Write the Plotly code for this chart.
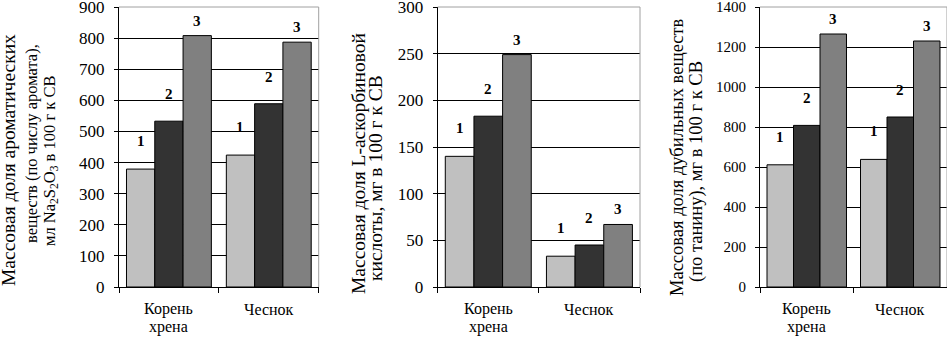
import plotly.graph_objects as go

# ---------------- data ----------------
categories = ["Корень<br>хрена", "Чеснок"]
series_names = ["1", "2", "3"]

aroma_1 = [379, 424]
aroma_2 = [533, 589]
aroma_3 = [808, 787]

ascorbic_1 = [140, 33]
ascorbic_2 = [183, 45]
ascorbic_3 = [249, 67]

tannin_1 = [611, 638]
tannin_2 = [808, 850]
tannin_3 = [1265, 1230]

y_ranges = [[0, 900], [0, 300], [0, 1400]]
y_dticks = [100, 50, 200]

# ---------------- style ----------------
W, H = 947, 337
FONT = "'Liberation Serif', 'Times New Roman', serif"
bar_colors = ["#c0c0c0", "#333333", "#808080"]
label_yshift = [28, 27, 15]
BARGAP = 0.15
cat_line_shift = [-22, -40]   # px offsets of category label lines below the axis

panel_x_px = [(119, 318.7), (437.7, 640), (760, 947)]
plot_top_px, plot_bottom_px = 7, 287

panels = [
    [aroma_1, aroma_2, aroma_3],
    [ascorbic_1, ascorbic_2, ascorbic_3],
    [tannin_1, tannin_2, tannin_3],
]

title_lines = [
    # text, x center px, y center px, font size
    ("Массовая доля ароматических", 8, 160, 19.5),
    ("веществ (по числу аромата),", 31, 144, 16.5),
    ("мл Na<sub>2</sub>S<sub>2</sub>O<sub>3</sub> в 100 г к СВ", 50, 161, 16.5),
    ("Массовая доля L-аскорбиновой", 358, 164, 19.5),
    ("кислоты, мг в 100 г к СВ", 375, 178, 19.5),
    ("Массовая доля дубильных веществ", 677, 157, 18.5),
    ("(по танину), мг в 100 г к СВ", 696, 172, 18.5),
]
tick_sizes = [17, 17, 15]

fig = go.Figure()
annotations = []
shapes = []

y0 = (H - plot_bottom_px) / H
y1 = (H - plot_top_px) / H

for p, series in enumerate(panels):
    xa = "x" if p == 0 else f"x{p+1}"
    ya = "y" if p == 0 else f"y{p+1}"
    for s, vals in enumerate(series):
        fig.add_trace(go.Bar(
            x=categories, y=vals, name=series_names[s],
            marker=dict(color=bar_colors[s], line=dict(color="black", width=1)),
            xaxis=xa, yaxis=ya, showlegend=False, offsetgroup=str(s),
            hoverinfo="skip",
        ))
    # bar labels
    x_lo, x_hi = panel_x_px[p]
    cat_w = (x_hi - x_lo) / len(categories)
    bar_w = cat_w * (1 - BARGAP) / len(series)
    for s, vals in enumerate(series):
        for c, v in enumerate(vals):
            annotations.append(dict(
                x=categories[c], y=v, xref=xa, yref=ya, text=f"<b>{series_names[s]}</b>",
                showarrow=False, xshift=(s - 1) * bar_w, yshift=label_yshift[s],
                font=dict(family=FONT, size=15, color="black"),
            ))
    # category labels (tighter line spacing than tick labels allow)
    for cat in categories:
        for li, line in enumerate(cat.split("<br>")):
            annotations.append(dict(
                x=cat, y=y_ranges[p][0], xref=xa, yref=ya, text=line,
                showarrow=False, yshift=cat_line_shift[li], yanchor="middle",
                font=dict(family=FONT, size=16, color="black"),
            ))
    dom = [x_lo / W, min(x_hi / W, 1.0)]
    axis_key = "xaxis" if p == 0 else f"xaxis{p+1}"
    yaxis_key = "yaxis" if p == 0 else f"yaxis{p+1}"
    fig.layout[axis_key] = dict(
        domain=dom, anchor=ya, showline=True, linecolor="black", linewidth=1,
        ticks="outside", tickson="boundaries", ticklen=5, tickcolor="black",
        showgrid=False, showticklabels=False, automargin=False,
    )
    fig.layout[yaxis_key] = dict(
        domain=[y0, y1], anchor=xa, range=y_ranges[p], dtick=y_dticks[p],
        showline=True, linecolor="black", linewidth=1, ticks="outside",
        ticklen=4, tickcolor="black", showgrid=True, gridcolor="black",
        gridwidth=1, zeroline=False, ticklabeloverflow="allow",
        tickfont=dict(family=FONT, size=tick_sizes[p], color="black"),
        ticklabelstandoff=6, automargin=False,
    )
    # gray frame top & right
    shapes.append(dict(type="line", xref=f"{xa} domain", yref=f"{ya} domain",
                       x0=0, x1=1, y0=1, y1=1, line=dict(color="#a0a0a0", width=1),
                       layer="above"))
    shapes.append(dict(type="line", xref=f"{xa} domain", yref=f"{ya} domain",
                       x0=1, x1=1, y0=0, y1=1, line=dict(color="#a0a0a0", width=1),
                       layer="above"))

for text, xpx, ypx, size in title_lines:
    annotations.append(dict(
        x=xpx / W, y=(H - ypx) / H, xref="paper", yref="paper", text=text,
        textangle=-90, showarrow=False, xanchor="center", yanchor="middle",
        font=dict(family=FONT, size=size, color="black"),
    ))

fig.update_layout(
    width=W, height=H, margin=dict(l=0, r=0, t=0, b=0, autoexpand=False),
    font=dict(family=FONT, color="black"),
    paper_bgcolor="white", plot_bgcolor="white",
    barmode="group", bargap=BARGAP, bargroupgap=0,
    annotations=annotations, shapes=shapes,
)

fig.write_html(
    "out.html",
    config={"displayModeBar": False, "staticPlot": True},
    post_script="document.body.style.margin='0';document.body.style.padding='0';",
)
